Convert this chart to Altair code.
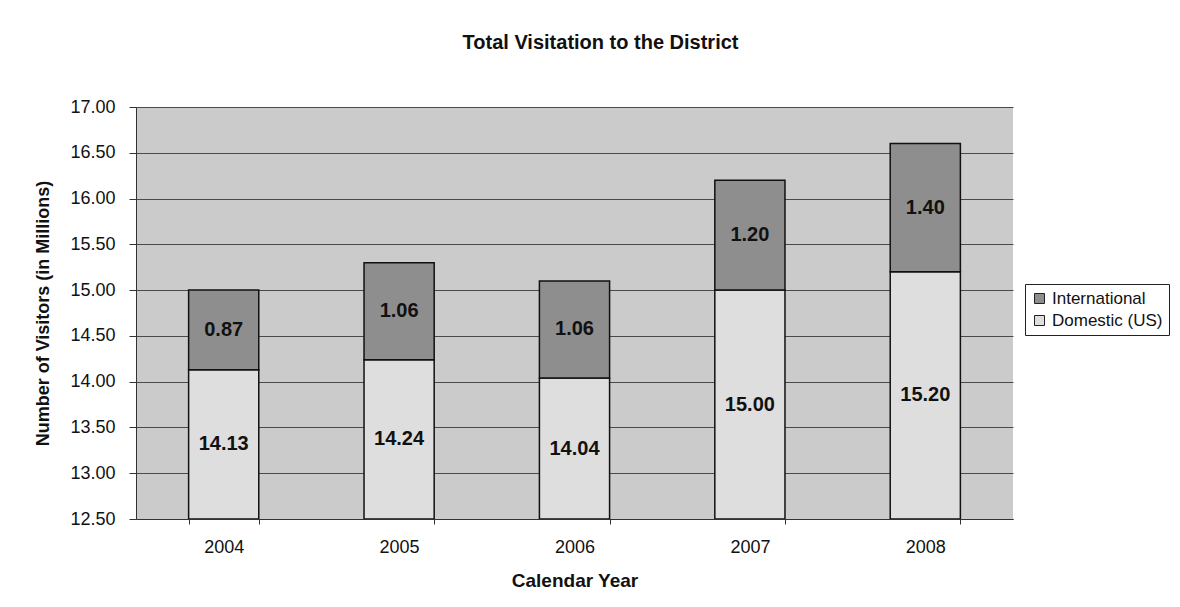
import altair as alt
import pandas as pd

years = ["2004", "2005", "2006", "2007", "2008"]
domestic = [14.13, 14.24, 14.04, 15.00, 15.20]
international = [0.87, 1.06, 1.06, 1.20, 1.40]
series_names = ["International", "Domestic (US)"]
y_min, y_max = 12.5, 17.0
y_ticks = [12.5, 13.0, 13.5, 14.0, 14.5, 15.0, 15.5, 16.0, 16.5, 17.0]

rows = []
for yr, d, i in zip(years, domestic, international):
    rows.append({"year": yr, "series": "Domestic (US)", "base": y_min, "top": d,
                 "mid": (y_min + d) / 2, "label": f"{d:.2f}"})
    rows.append({"year": yr, "series": "International", "base": d, "top": d + i,
                 "mid": d + i / 2, "label": f"{i:.2f}"})
df = pd.DataFrame(rows)

FONT = "Liberation Sans"

x_enc = alt.X("year:N", title="Calendar Year",
              scale=alt.Scale(paddingInner=0.6, paddingOuter=0.3),
              axis=alt.Axis(labelAngle=0, tickBand="extent", tickSize=5, labelPadding=14,
                            titlePadding=15, domainColor="#333", tickColor="#333",
                            labelFontSize=18, titleFontSize=19))

bars = alt.Chart(df).mark_bar(stroke="#111", strokeWidth=1.5, clip=True).encode(
    x=x_enc,
    y=alt.Y("base:Q", title="Number of Visitors (in Millions)",
            scale=alt.Scale(domain=[y_min, y_max], nice=False, zero=False),
            axis=alt.Axis(values=y_ticks, format=".2f", tickSize=7, labelPadding=14,
                          titlePadding=17, gridColor="#4a4a4a", gridOpacity=1, gridWidth=1,
                          domainColor="#333", tickColor="#333",
                          labelFontSize=18, titleFontSize=18)),
    y2="top:Q",
    color=alt.Color("series:N", title=None,
                    scale=alt.Scale(domain=series_names, range=["#8e8e8e", "#dedede"]),
                    legend=alt.Legend(orient="none", legendX=889, legendY=177,
                                      strokeColor="#222", padding=6, symbolType="square",
                                      symbolSize=100, symbolStrokeColor="#222",
                                      symbolStrokeWidth=1, labelFontSize=17, rowPadding=4,
                                      labelFont=FONT, labelColor="#111", fillColor="white",
                                      labelOffset=4)),
)

labels = alt.Chart(df).mark_text(fontWeight="bold", fontSize=20, font=FONT, color="#111").encode(
    x=alt.X("year:N"),
    y=alt.Y("mid:Q"),
    text="label:N",
)

chart = alt.layer(bars, labels).properties(
    width=877, height=412,
    title=alt.TitleParams("Total Visitation to the District", font=FONT, fontSize=20,
                          fontWeight="bold", offset=45, dx=26, color="#111"),
    autosize=alt.AutoSizeParams(type="none"),
    padding={"left": 128, "top": 99, "right": 159, "bottom": 80},
).configure_view(fill="#cbcbcb", stroke=None).configure_axis(
    labelFont=FONT, titleFont=FONT,
    titleFontWeight="bold", labelColor="#111", titleColor="#111",
).configure_axisX(grid=False)

chart.save("out.html", embed_options={"renderer": "svg", "actions": False})
